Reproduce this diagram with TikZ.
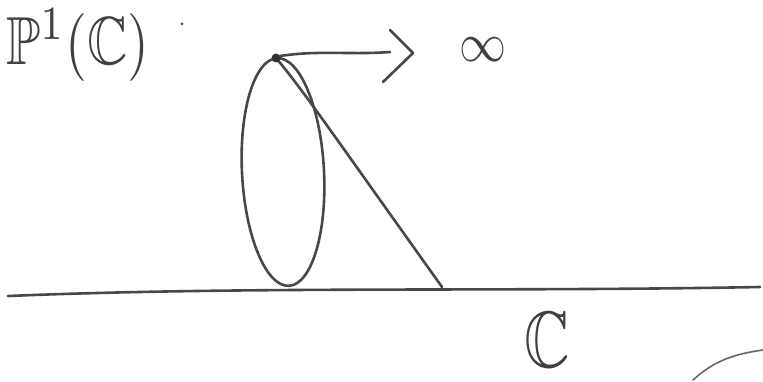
\documentclass[tikz,border=0pt]{standalone}
\usepackage{amssymb}
\usepackage{graphicx}
\begin{document}
\begin{tikzpicture}[x=1pt,y=-1pt,
  pencil/.style={draw=black!72, line width=2.6pt, line cap=round, line join=round},
  thin pencil/.style={draw=black!60, line width=1.6pt, line cap=round},
  label/.style={text=black!75, inner sep=0}]
\useasboundingbox (0,0) rectangle (763,382);
% coordinates
\coordinate (top) at (276,58);
\coordinate (foot) at (442,287);
\coordinate (arrowend) at (390,52);
\coordinate (lineL) at (8,296);
\coordinate (lineR) at (760,287);
% horizontal line C
\draw[pencil] (lineL) .. controls (250,286) and (500,292) .. (lineR);
% sphere (ellipse)
\draw[pencil] (283,172) ellipse [x radius=41, y radius=114, rotate=3];
% projection line
\draw[pencil] (top) .. controls (300,86) and (330,130) .. (foot);
% point at infinity
\fill[black!80] (top) circle (4.5);
% arrow to infinity
\draw[pencil] (280,56) .. controls (320,50) and (350,55) .. (arrowend);
\draw[pencil] (390,30) -- (413,53) -- (383,82);
% labels
\node[label, anchor=center] (inf) at (483,50) {\scalebox{4.7}[5.5]{$\infty$}};
\node[label, anchor=north west] (P1) at (6,9) {\scalebox{5.6}[6.8]{$\mathbb{P}^1(\mathbb{C})$}};
\fill[black!70] (182,24) circle (1.5);
\node[label, anchor=center] (C) at (547,340) {\scalebox{6.3}[8]{$\mathbb{C}$}};
% corner curve
\draw[thin pencil] (693,380) .. controls (715,360) and (735,354) .. (763,350);
\end{tikzpicture}
\end{document}
